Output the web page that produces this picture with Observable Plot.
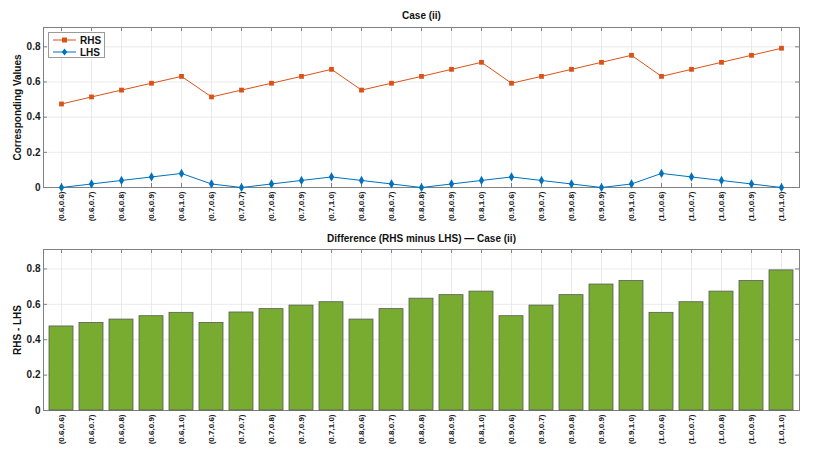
<!DOCTYPE html>
<html>
<head>
<meta charset="utf-8">
<script src="https://cdn.jsdelivr.net/npm/d3@7"></script>
<script src="https://cdn.jsdelivr.net/npm/@observablehq/plot@0.6"></script>
<style>
  html, body { margin: 0; padding: 0; background: #fff; }
  #wrap { position: relative; width: 819px; height: 456px; background: #fff; font-family: "Liberation Sans", Arial, sans-serif; }
  #wrap svg { display: block; }
  #legend { position: absolute; left: 48px; top: 32px; width: 57px; height: 26px; border: 1px solid #9a9a9a; background: #fff; box-sizing: border-box; }
  .lrow { position: absolute; left: 0; height: 12px; display: flex; align-items: center; font-size: 10px; font-weight: bold; color: #111; }
</style>
</head>
<body>
<div id="wrap">
  <div id="top"></div>
  <div id="bot"></div>
  <div id="legend">
    <div class="lrow" style="top:1px"><svg width="31" height="12"><line x1="4" y1="6" x2="27" y2="6" stroke="#D95319" stroke-width="1"/><rect x="13" y="3.5" width="5" height="5" fill="#D95319"/></svg><span>RHS</span></div>
    <div class="lrow" style="top:13px"><svg width="31" height="12"><line x1="4" y1="6" x2="27" y2="6" stroke="#0072BD" stroke-width="1"/><path d="M15.5,2.5 L18.3,6 L15.5,9.5 L12.7,6 Z" fill="#0072BD"/></svg><span>LHS</span></div>
  </div>
</div>
<script>
// ---- data ----
const categories = [
  "(0.6,0.6)","(0.6,0.7)","(0.6,0.8)","(0.6,0.9)","(0.6,1.0)",
  "(0.7,0.6)","(0.7,0.7)","(0.7,0.8)","(0.7,0.9)","(0.7,1.0)",
  "(0.8,0.6)","(0.8,0.7)","(0.8,0.8)","(0.8,0.9)","(0.8,1.0)",
  "(0.9,0.6)","(0.9,0.7)","(0.9,0.8)","(0.9,0.9)","(0.9,1.0)",
  "(1.0,0.6)","(1.0,0.7)","(1.0,0.8)","(1.0,0.9)","(1.0,1.0)"
];
const rhs = [
  0.475,0.515,0.554,0.593,0.632,
  0.515,0.554,0.593,0.632,0.672,
  0.554,0.593,0.632,0.672,0.712,
  0.593,0.632,0.672,0.712,0.752,
  0.632,0.672,0.712,0.752,0.792
];
const lhs = [
  0.00,0.02,0.04,0.06,0.08,
  0.02,0.00,0.02,0.04,0.06,
  0.04,0.02,0.00,0.02,0.04,
  0.06,0.04,0.02,0.00,0.02,
  0.08,0.06,0.04,0.02,0.00
];
const diff = [
  0.475,0.495,0.514,0.533,0.552,
  0.495,0.554,0.573,0.593,0.612,
  0.514,0.573,0.632,0.652,0.672,
  0.533,0.593,0.652,0.712,0.732,
  0.552,0.612,0.672,0.732,0.792
];
const yTicks = [0, 0.2, 0.4, 0.6, 0.8];
const titleTop = "Case (ii)";
const titleBottom = "Difference (RHS minus LHS) \u2014 Case (ii)";
const yLabelTop = "Corresponding Values";
const yLabelBottom = "RHS - LHS";

const rhsData = categories.map((c, i) => ({cat: c, v: rhs[i]}));
const lhsData = categories.map((c, i) => ({cat: c, v: lhs[i]}));
const diffData = categories.map((c, i) => ({cat: c, v: diff[i]}));

const font = "'Liberation Sans', Arial, Helvetica, sans-serif";
const gridColor = "#e6e6e6";
const axisColor = "#808080";
const fmt = d => d === 0 ? "0" : d.toFixed(1);

function common(frameW, frameH) {
  return [
    Plot.gridX(categories, {x: d => d, stroke: gridColor, strokeOpacity: 1, strokeWidth: 0.8}),
    Plot.gridY(yTicks, {y: d => d, stroke: gridColor, strokeOpacity: 1, strokeWidth: 0.8}),
    // inward ticks (all four sides)
    Plot.tickX(categories, {x: d => d, stroke: axisColor, insetBottom: frameH - 4}),
    Plot.tickX(categories, {x: d => d, stroke: axisColor, insetTop: frameH - 4}),
    Plot.tickY(yTicks, {y: d => d, stroke: axisColor, insetRight: frameW - 4}),
    Plot.tickY(yTicks, {y: d => d, stroke: axisColor, insetLeft: frameW - 4}),
    Plot.frame({stroke: axisColor, strokeWidth: 1}),
    Plot.axisX({anchor: "bottom", tickSize: 0, tickPadding: 4, tickRotate: -90, fontSize: 8, fontWeight: "bold", fill: "#1a1a1a", label: null}),
    Plot.axisY({anchor: "left", ticks: yTicks, tickSize: 0, tickPadding: 3, tickFormat: fmt, fontSize: 10, fontWeight: "bold", fill: "#1a1a1a", label: null})
  ];
}

// ---- top panel ----
const topW = 819, topH = 228, tML = 43, tMR = 20, tMT = 27, tMB = 41;
const topPlot = Plot.plot({
  width: topW, height: topH,
  marginLeft: tML, marginRight: tMR, marginTop: tMT, marginBottom: tMB,
  style: {fontFamily: font, background: "white", overflow: "visible"},
  x: {type: "point", domain: categories, padding: 0.5, label: null},
  y: {domain: [0, 0.91], label: null},
  marks: [
    ...common(topW - tML - tMR, topH - tMT - tMB),
    Plot.line(rhsData, {x: "cat", y: "v", stroke: "#D95319", strokeWidth: 1}),
    Plot.dot(rhsData, {x: "cat", y: "v", symbol: "square", fill: "#D95319", r: 2.7}),
    Plot.line(lhsData, {x: "cat", y: "v", stroke: "#0072BD", strokeWidth: 1}),
    Plot.dot(lhsData, {x: "cat", y: "v", symbol: "diamond", fill: "#0072BD", r: 2.8}),
    Plot.text([titleTop], {frameAnchor: "top", lineAnchor: "middle", dy: -12, fontSize: 10, fontWeight: "bold", fill: "#111"}),
    Plot.text([yLabelTop], {frameAnchor: "left", textAnchor: "middle", dx: -26, rotate: -90, fontSize: 10, fontWeight: "bold", fill: "#111"})
  ]
});
document.getElementById("top").appendChild(topPlot);

// ---- bottom panel ----
const botW = 819, botH = 228, bML = 43, bMR = 20, bMT = 21, bMB = 46;
const botPlot = Plot.plot({
  width: botW, height: botH,
  marginLeft: bML, marginRight: bMR, marginTop: bMT, marginBottom: bMB,
  style: {fontFamily: font, background: "white", overflow: "visible"},
  x: {type: "band", domain: categories, paddingInner: 0.2, paddingOuter: 0.1, label: null},
  y: {domain: [0, 0.91], label: null},
  marks: [
    ...common(botW - bML - bMR, botH - bMT - bMB),
    Plot.barY(diffData, {x: "cat", y: "v", fill: "#77AC30", stroke: "#595959", strokeWidth: 0.8}),
    Plot.text([titleBottom], {frameAnchor: "top", lineAnchor: "middle", dy: -11, fontSize: 10, fontWeight: "bold", fill: "#111"}),
    Plot.text([yLabelBottom], {frameAnchor: "left", textAnchor: "middle", dx: -26, rotate: -90, fontSize: 10, fontWeight: "bold", fill: "#111"})
  ]
});
document.getElementById("bot").appendChild(botPlot);
</script>
</body>
</html>
